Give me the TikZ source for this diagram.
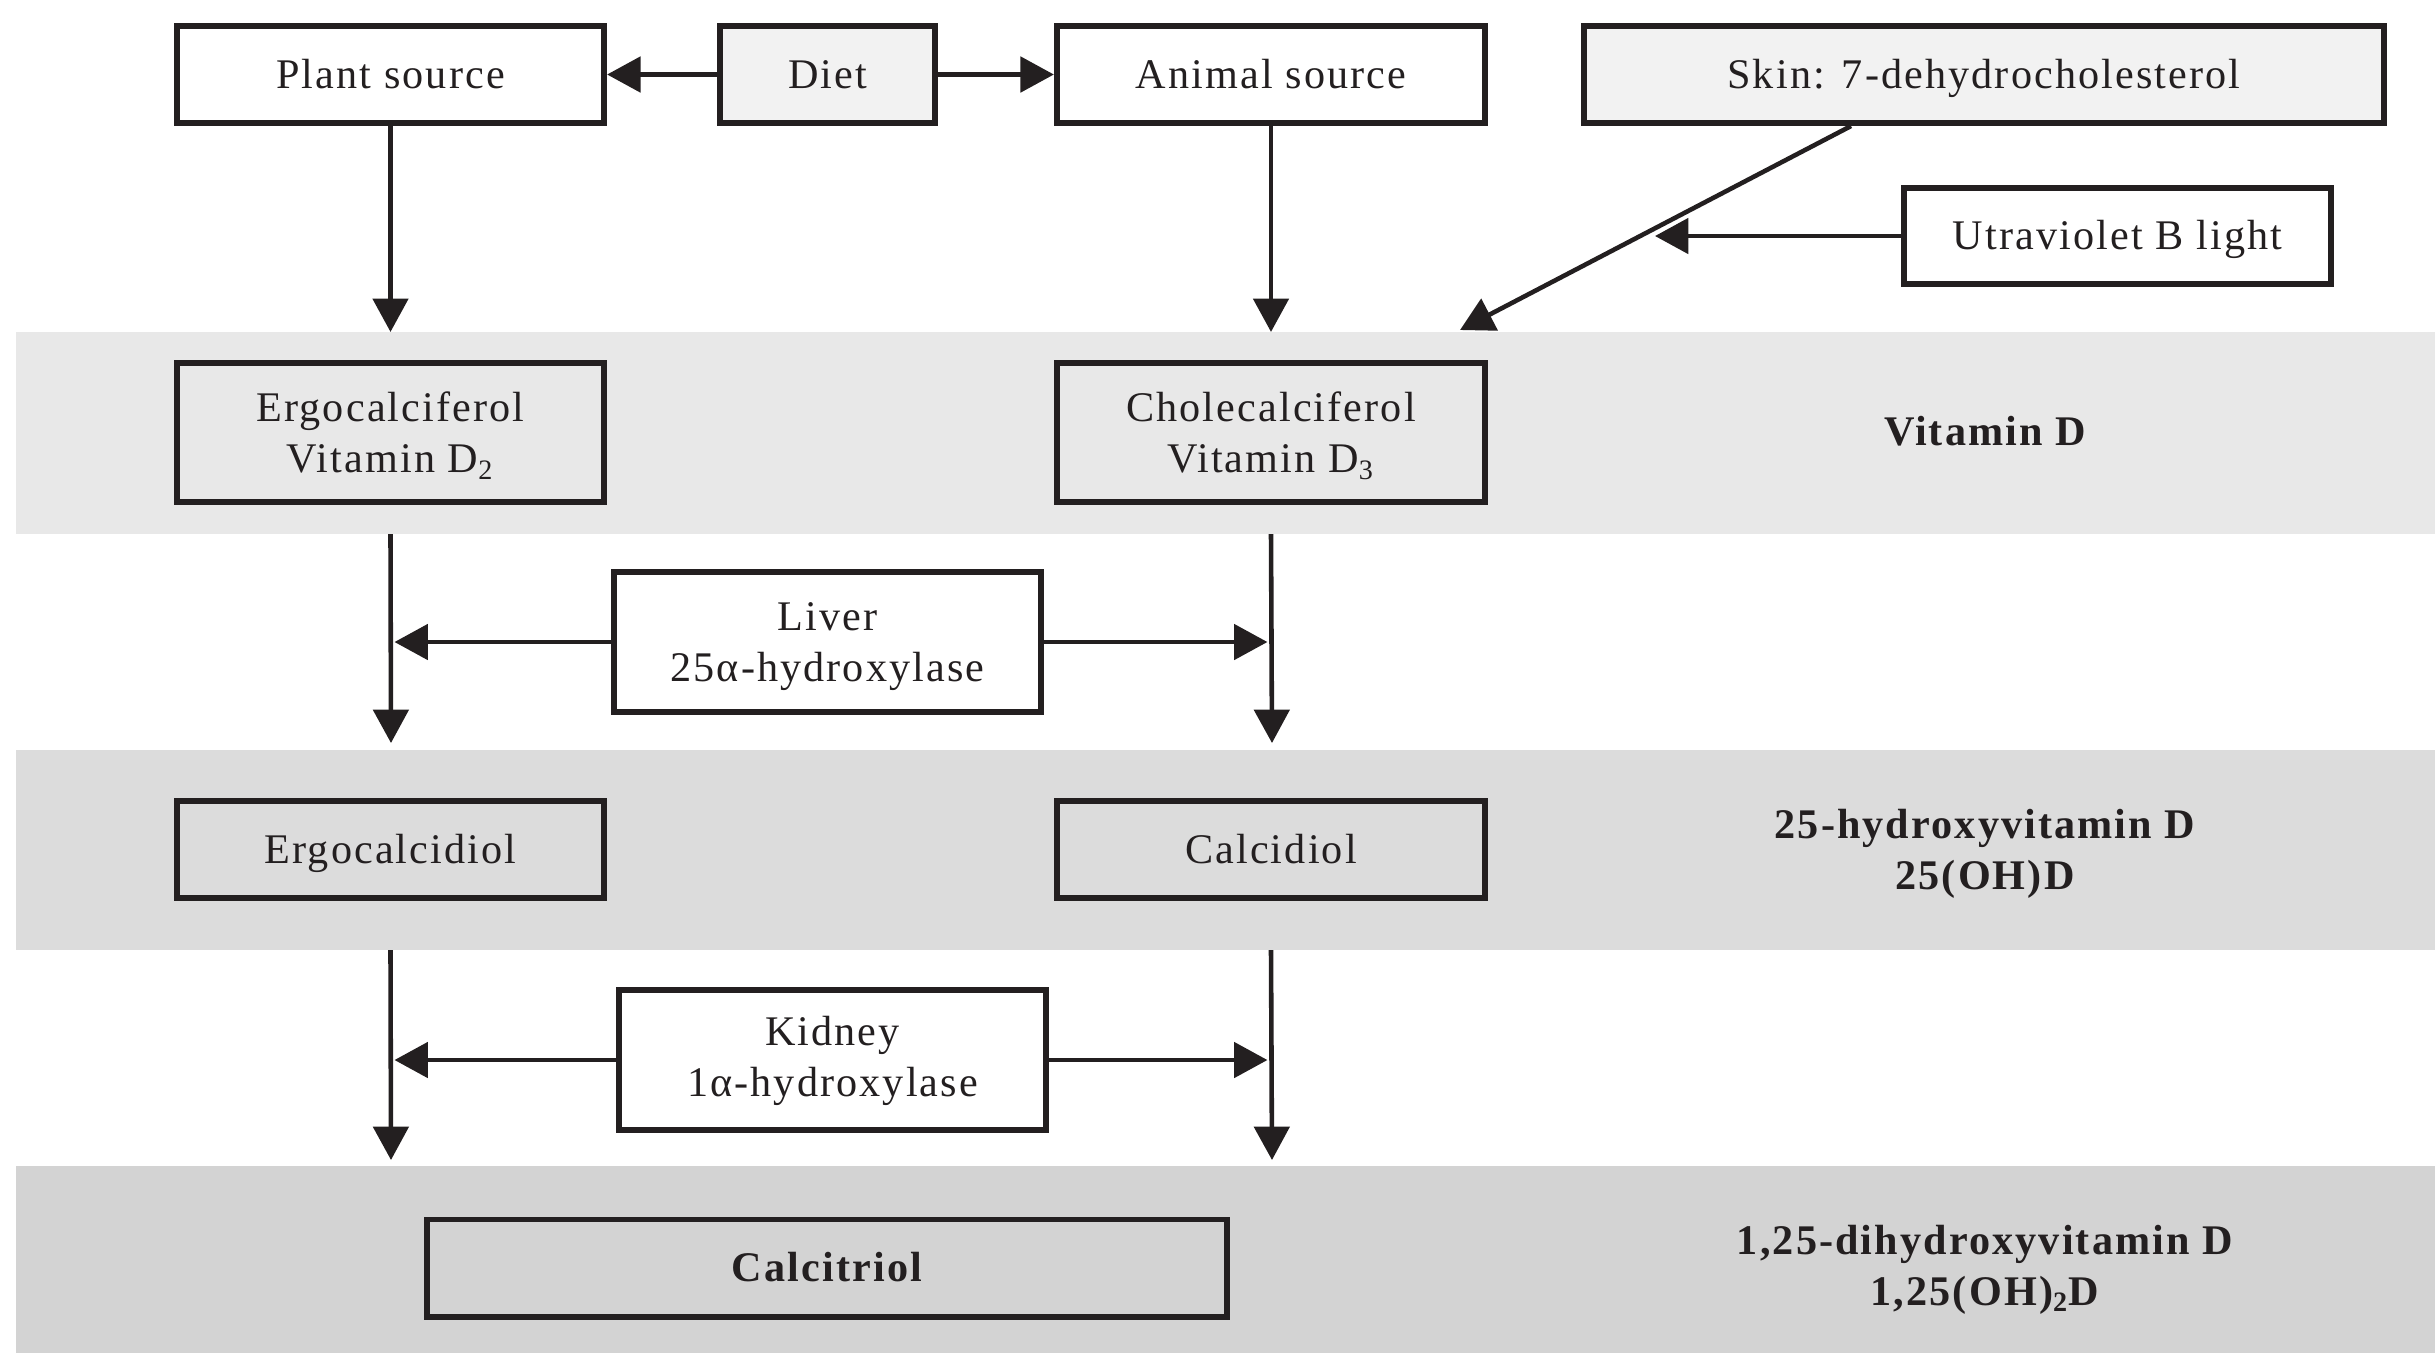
\documentclass[tikz,border=0pt]{standalone}
\usepackage{fontspec}
\setmainfont{Liberation Serif}[LetterSpace=5]
\usetikzlibrary{arrows.meta}
\definecolor{bandA}{HTML}{E8E8E8}
\definecolor{bandB}{HTML}{DCDCDC}
\definecolor{bandC}{HTML}{D3D3D3}
\definecolor{lightbox}{HTML}{F2F2F2}
\definecolor{ink}{HTML}{231F20}
\begin{document}
\begin{tikzpicture}[x=0.01cm,y=-0.01cm,
  box/.style={draw=ink,line width=1.7pt,align=center,inner sep=0pt,
    font=\fontsize{12}{14.5}\selectfont,text=ink},
  one/.style={text height=10pt,text depth=2.2pt},
  two/.style={text depth=0pt},
  band/.style={inner sep=0pt,outer sep=0pt,minimum width=24.18cm},
  arr/.style={draw=ink,line width=1.3pt,-{Triangle[length=9.5pt,width=10pt]}},
  lab/.style={align=center,font=\bfseries\fontsize{12}{14.5}\selectfont,text=ink}]
\useasboundingbox (0,0) rectangle (2435,1353);
% bands
\node[band,fill=bandA,minimum height=2.02cm] (band1) at (1226,433) {};
\node[band,fill=bandB,minimum height=2.00cm] (band2) at (1226,850) {};
\node[band,fill=bandC,minimum height=1.87cm] (band3) at (1226,1259.5) {};
% top row
\node[box,one,minimum width=4.27cm,minimum height=0.97cm] (plant) at (390.5,74.5) {Plant source};
\node[box,one,fill=lightbox,minimum width=2.15cm,minimum height=0.97cm] (diet) at (827.5,74.5) {Diet};
\node[box,one,minimum width=4.28cm,minimum height=0.97cm] (animal) at (1271,74.5) {Animal source};
\node[box,one,fill=lightbox,minimum width=8.00cm,minimum height=0.97cm] (skin) at (1984,74.5) {Skin: 7-dehydrocholesterol};
\node[box,one,minimum width=4.27cm,minimum height=0.96cm] (uvb) at (2117.5,236) {Utraviolet B light};
% vitamin D row
\node[box,two,minimum width=4.27cm,minimum height=1.39cm] (ergo) at (390.5,432.5) {Ergocalciferol\\Vitamin D\textsubscript{2}};
\node[box,two,minimum width=4.28cm,minimum height=1.39cm] (chole) at (1271,432.5) {Cholecalciferol\\Vitamin D\textsubscript{3}};
\node[lab,one] (labA) at (1985,432) {Vitamin D};
% liver
\node[box,two,fill=white,minimum width=4.27cm,minimum height=1.39cm] (liver) at (827.5,642) {Liver\\25α-hydroxylase};
% 25(OH)D row
\node[box,one,minimum width=4.27cm,minimum height=0.97cm] (ergodiol) at (390.5,849.5) {Ergocalcidiol};
\node[box,one,minimum width=4.28cm,minimum height=0.97cm] (calcidiol) at (1271,849.5) {Calcidiol};
\node[lab,two] (labB) at (1985,849) {25-hydroxyvitamin D\\25(OH)D};
% kidney
\node[box,text depth=2pt,fill=white,minimum width=4.27cm,minimum height=1.40cm] (kidney) at (832.5,1060) {Kidney\\1α-hydroxylase};
% calcitriol row
\node[box,one,font=\bfseries\fontsize{12}{14.5}\selectfont,minimum width=8.00cm,minimum height=0.97cm] (calcitriol) at (827,1268) {Calcitriol};
\node[lab,two] (labC) at (1985,1265) {1,25-dihydroxyvitamin D\\1,25(OH)\textsubscript{2}D};
% helper coordinates
\coordinate (skinx) at (1851,0);
\coordinate (skintip) at (1460,330);
\coordinate (uvbtip) at (1655,236);
\coordinate (tipL1) at (391,743);
\coordinate (tipR1) at (1272,743);
\coordinate (tipL2) at (391,1160);
\coordinate (tipR2) at (1272,1160);
% connectors
\draw[arr] (diet.west) -- (plant.east);
\draw[arr] (diet.east) -- (animal.west);
\draw[arr] (plant.south) -- (band1.north -| plant.south);
\draw[arr] (animal.south) -- (band1.north -| animal.south);
\draw[arr] (skin.south -| skinx) -- (skintip);
\draw[arr] (uvb.west) -- (uvbtip);
\draw[arr] (band1.south -| ergo.south) -- (tipL1);
\draw[arr] (band1.south -| chole.south) -- (tipR1);
\draw[arr,shorten >=1pt] (liver.west) -- (liver.west -| tipL1);
\draw[arr,shorten >=1.3pt] (liver.east) -- (liver.east -| tipR1);
\draw[arr] (band2.south -| ergodiol.south) -- (tipL2);
\draw[arr] (band2.south -| calcidiol.south) -- (tipR2);
\draw[arr,shorten >=1pt] (kidney.west) -- (kidney.west -| tipL2);
\draw[arr,shorten >=1.3pt] (kidney.east) -- (kidney.east -| tipR2);
\end{tikzpicture}
\end{document}
